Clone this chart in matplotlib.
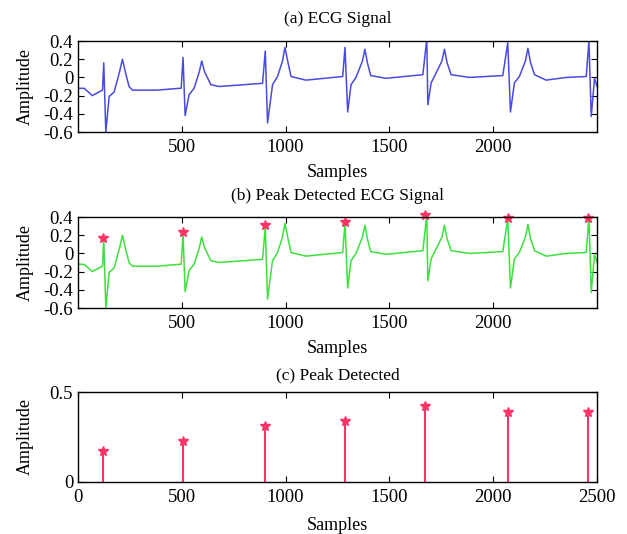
import matplotlib
matplotlib.use("Agg")
from matplotlib import pyplot as plt

# ECG trace key points (sample, amplitude)
ecg_x = [0, 30, 69, 101, 118, 124, 134, 150, 174, 200, 214, 228, 246, 262, 380, 487, 497,
         506, 516, 535, 559, 584, 596, 610, 640, 680, 889,
         902, 913, 937, 961, 985, 997, 1010, 1026, 1098, 1275,
         1286, 1299, 1315, 1339, 1370, 1382, 1394, 1410, 1484, 1661,
         1680, 1685, 1701, 1725, 1753, 1765, 1778, 1797, 1885, 2046,
         2070, 2083, 2102, 2126, 2155, 2167, 2180, 2199, 2255, 2352, 2448,
         2461, 2472, 2488, 2500]
ecg_y = [-0.12, -0.12, -0.20, -0.16, -0.14, 0.16, -0.60, -0.21, -0.16, 0.06, 0.20, 0.06, -0.10, -0.14, -0.14, -0.12, -0.12,
         0.22, -0.42, -0.19, -0.12, 0.06, 0.18, 0.06, -0.08, -0.10, -0.065,
         0.29, -0.50, -0.08, 0.01, 0.18, 0.33, 0.18, 0.01, -0.03, 0.01,
         0.33, -0.38, -0.08, 0.00, 0.18, 0.31, 0.16, 0.02, -0.01, 0.03,
         0.42, -0.30, -0.06, 0.05, 0.18, 0.31, 0.16, 0.03, 0.00, 0.02,
         0.38, -0.38, -0.06, 0.01, 0.18, 0.32, 0.16, 0.03, -0.03, 0.00, 0.01,
         0.40, -0.43, -0.01, -0.10]

# detected R peaks
peak_x = [120, 508, 900, 1287, 1672, 2070, 2456]
peak_y = [0.17, 0.23, 0.31, 0.34, 0.42, 0.39, 0.39]

plt.rcParams["font.family"] = ["Liberation Serif", "DejaVu Serif"]
plt.rcParams["font.size"] = 13
plt.rcParams["xtick.direction"] = "in"
plt.rcParams["ytick.direction"] = "in"
plt.rcParams["xtick.top"] = True
plt.rcParams["ytick.right"] = True

fig = plt.figure(figsize=(6.27, 5.34), dpi=100)
ax1 = fig.add_axes([0.1244, 0.7528, 0.8278, 0.1704])
ax2 = fig.add_axes([0.1244, 0.4232, 0.8278, 0.1704])
ax3 = fig.add_axes([0.1244, 0.0974, 0.8278, 0.1685])

star_col = "#ff3366"

ax1.plot(ecg_x, ecg_y, color="#4a4ae0", lw=1.1)
ax1.set_title("(a) ECG Signal", fontsize=12.5, pad=13)

ax2.plot(ecg_x, ecg_y, color="#3ee03e", lw=1.1)
ax2.plot(peak_x, peak_y, "*", color=star_col, ms=7, clip_on=False)
ax2.set_title("(b) Peak Detected ECG Signal", fontsize=12.5, pad=12)

for ax in (ax1, ax2):
    ax.set_xlim(0, 2500)
    ax.set_ylim(-0.6, 0.4)
    ax.set_xticks([500, 1000, 1500, 2000])
    ax.set_yticks([-0.6, -0.4, -0.2, 0, 0.2, 0.4])
    ax.set_yticklabels(["-0.6", "-0.4", "-0.2", "0", "0.2", "0.4"])
    ax.set_xlabel("Samples", labelpad=6)

ml, sl, bl = ax3.stem(peak_x, peak_y, linefmt="-", markerfmt="*", basefmt=" ")
plt.setp(sl, color=star_col, lw=1.5)
plt.setp(ml, color=star_col, ms=7)
ax3.set_xlim(0, 2500)
ax3.set_ylim(0, 0.5)
ax3.set_xticks([0, 500, 1000, 1500, 2000, 2500])
ax3.set_yticks([0, 0.5])
ax3.set_yticklabels(["0", "0.5"])
ax3.set_title("(c) Peak Detected", fontsize=12.5, pad=9)
ax3.set_xlabel("Samples", labelpad=8)

for ax in (ax1, ax2, ax3):
    ax.set_ylabel("Amplitude")
    ax.yaxis.set_label_coords(-0.085, 0.5)
    ax.tick_params(axis="x", pad=5)
    ax.tick_params(length=4, width=0.8, labelsize=13.5)
    for s in ax.spines.values():
        s.set_linewidth(1.0)

plt.savefig("out.png", dpi=100)
